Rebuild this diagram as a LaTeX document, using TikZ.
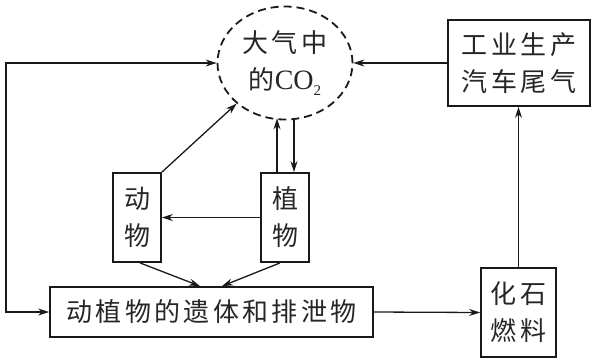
\documentclass[tikz,border=0pt]{standalone}
\usepackage{fontspec}
\setmainfont{Liberation Serif}
\newfontfamily\cjk[LetterSpace=13]{Noto Sans CJK SC}
\newfontfamily\latinserif{Liberation Serif}
\usetikzlibrary{arrows.meta,shapes.geometric}
\begin{document}
\begin{tikzpicture}[x=1pt,y=-1pt,
  txt/.style={text=black!85, font=\fontsize{26}{37}\cjk, align=center, inner sep=0pt},
  box/.style={txt, draw=black!90, line width=1.8pt},
  arr/.style={draw=black!90, line width=1.3pt, -{Stealth[length=11pt,width=7pt]}},
  arrb/.style={draw=black!90, line width=1.3pt, {Stealth[length=11pt,width=7pt]}-{Stealth[length=11pt,width=7pt]}}]
\useasboundingbox (0,0) rectangle (593,359);
\node[ellipse, draw=black!90, line width=1.8pt, dash pattern=on 8pt off 5pt,
  minimum width=135pt, minimum height=113pt, txt] (co2) at (285,63)
  {大气中\\的{\latinserif\fontsize{28}{37}\selectfont CO\raisebox{-6pt}{\fontsize{15}{15}\selectfont 2}}};
\node[box, minimum width=142pt, minimum height=86pt] (ind) at (519,63) {工业生产\\汽车尾气};
\node[box, minimum width=75pt, minimum height=89pt] (fos) at (518.5,312.5) {化石\\燃料};
\node[box, minimum width=323pt, minimum height=50pt] (rem) at (211.5,312) {动植物的遗体和排泄物};
\node[box, minimum width=48pt, minimum height=89pt] (ani) at (137,217.5) {动\\物};
\node[box, minimum width=48pt, minimum height=89pt] (pla) at (285,217.5) {植\\物};
\coordinate (lt) at (6,63);
\coordinate (lb) at (6,312);
\draw[arrb] (rem.west) -- (lb) -- (lt) -- (co2.west);
\draw[arr] (ind.west) -- (co2.east);
\draw[arr] (fos.north) -- (fos.north |- ind.south);
\draw[arr] (rem.east) -- (fos.west);
\draw[arr] (ani.north east) -- (co2.south west);
\draw[arr] ([xshift=-8pt]pla.north) -- ([xshift=-8pt,yshift=2pt]co2.south);
\draw[arr] ([xshift=9pt,yshift=2pt]co2.south) -- ([xshift=9pt]pla.north);
\draw[arr] (pla.west) -- (ani.east);
\draw[arr] ([xshift=3pt]ani.south) -- ([xshift=-11.5pt]rem.north);
\draw[arr] ([xshift=-5pt]pla.south) -- ([xshift=10.5pt]rem.north);
\end{tikzpicture}
\end{document}
